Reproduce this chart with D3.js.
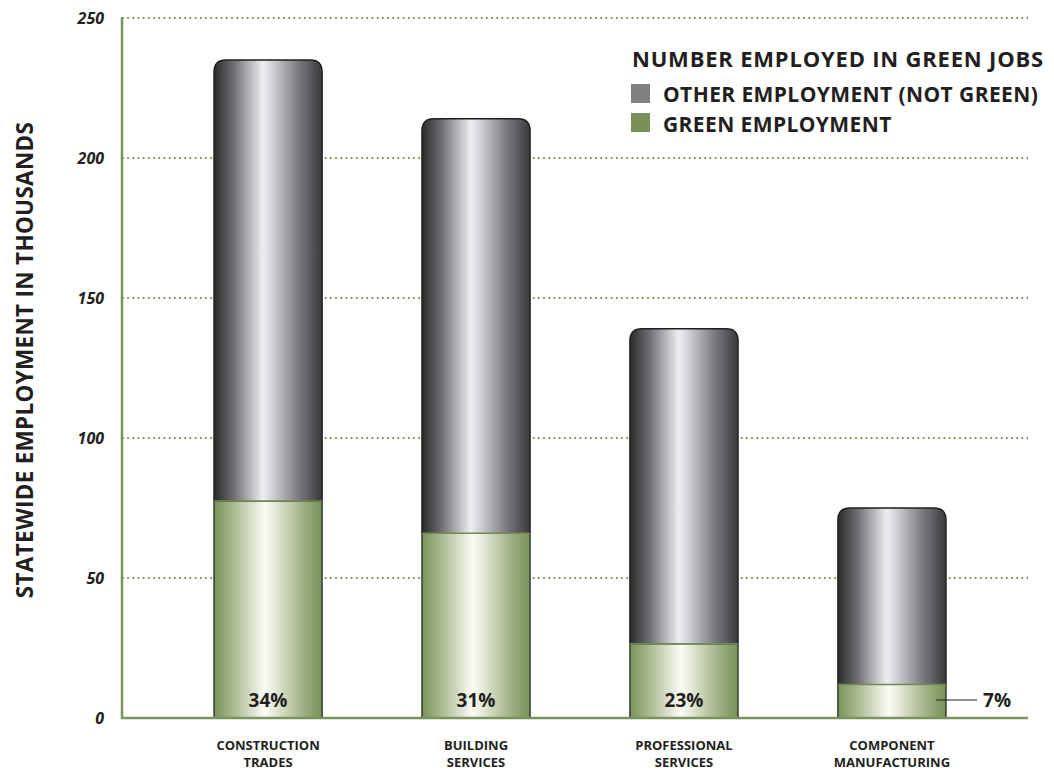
<!DOCTYPE html>
<html>
<head>
<meta charset="utf-8">
<script src="https://cdn.jsdelivr.net/npm/d3@7"></script>
<style>
  html,body{margin:0;padding:0;background:#fff;}
  svg{display:block;font-family:"Open Sans","Noto Sans",sans-serif;}
</style>
</head>
<body>
<svg width="1054" height="770"></svg>
<script>
// data (thousands)
const categories = [["CONSTRUCTION","TRADES"],["BUILDING","SERVICES"],["PROFESSIONAL","SERVICES"],["COMPONENT","MANUFACTURING"]];
const green = [77.5, 66, 26.5, 12];
const other = [157.5, 148, 112.5, 63];
const pctLabels = ["34%","31%","23%","7%"];
const yTicks = [0, 50, 100, 150, 200, 250];

const C = { grid:"#6e8c4c", axis:"#7a9459", ink:"#231f20", outline:"#1e1e1e" };

const svg = d3.select("svg");
const defs = svg.append("defs");

function grad(id, stops){
  const g = defs.append("linearGradient").attr("id",id).attr("x1","0%").attr("x2","100%").attr("y1","0").attr("y2","0");
  stops.forEach(s=>g.append("stop").attr("offset",s[0]).attr("stop-color",s[1]));
}
grad("gGray",[["0%","#2b2b2c"],["18%","#6c6d70"],["45%","#eceef0"],["52%","#d6d8db"],["80%","#747579"],["100%","#3a3a3c"]]);
grad("gGreen",[["0%","#78935a"],["18%","#a9b98f"],["47%","#fbfcf6"],["55%","#e8ecdc"],["82%","#a0b184"],["100%","#789258"]]);

const x0 = 122, x1 = 1028, yTop = 18, yBot = 718;
const keys = categories.map(d=>d.join(" "));
const x = d3.scaleBand().domain(keys).range([110, 1050]).paddingInner(0.48).paddingOuter(0.5);
const y = d3.scaleLinear().domain([0,250]).range([yBot, yTop]);

// grid
svg.append("g").selectAll("line").data(yTicks.filter(t=>t>0)).join("line")
  .attr("x1",x0).attr("x2",x1).attr("y1",d=>y(d)).attr("y2",d=>y(d))
  .attr("stroke",C.grid).attr("stroke-width",2).attr("stroke-dasharray","1.6 3.6").attr("stroke-linecap","butt");

// tick labels
svg.append("g").selectAll("text").data(yTicks).join("text")
  .attr("x",104).attr("y",d=>y(d)+6).attr("text-anchor","end")
  .attr("font-size",16).attr("font-weight",700).attr("font-style","italic").attr("fill",C.ink)
  .text(d=>d);

// y title
svg.append("text").attr("transform","translate(33,360) rotate(-90)").attr("text-anchor","middle")
  .attr("font-size",22.5).attr("font-weight",700).attr("fill",C.ink).attr("letter-spacing","0.3px")
  .text("STATEWIDE EMPLOYMENT IN THOUSANDS");

// stacked bars
const rows = keys.map((k,i)=>({key:k, green:green[i], other:other[i]}));
const series = d3.stack().keys(["green","other"])(rows);
const bw = x.bandwidth(), r = 12;

const bars = svg.append("g");
series[0].forEach((s,i)=>{
  bars.append("rect").attr("x",x(keys[i])).attr("width",bw)
    .attr("y",y(s[1])).attr("height",y(s[0])-y(s[1]))
    .attr("fill","url(#gGreen)").attr("stroke",C.outline).attr("stroke-width",1.2);
});
series[1].forEach((s,i)=>{
  const L = x(keys[i]), R = L+bw, T = y(s[1]), B = y(s[0]);
  const p = `M${L},${B} L${L},${T+r} Q${L},${T} ${L+r},${T} L${R-r},${T} Q${R},${T} ${R},${T+r} L${R},${B}`;
  bars.append("path").attr("d",p+" Z").attr("fill","url(#gGray)");
  bars.append("path").attr("d",p).attr("fill","none").attr("stroke",C.outline).attr("stroke-width",1.4);
  // green/gray seam
  bars.append("line").attr("x1",L).attr("x2",R).attr("y1",B).attr("y2",B).attr("stroke","#6f8a52").attr("stroke-width",1.5);
});

// axes lines
svg.append("line").attr("x1",x0).attr("x2",x0).attr("y1",yTop-1).attr("y2",yBot+1).attr("stroke",C.axis).attr("stroke-width",2.5);
svg.append("line").attr("x1",x0-1).attr("x2",x1).attr("y1",yBot).attr("y2",yBot).attr("stroke",C.axis).attr("stroke-width",2.5);

// percentage labels
pctLabels.forEach((t,i)=>{
  const cx = x(keys[i]) + bw/2;
  if(i < 3){
    svg.append("text").attr("x",cx).attr("y",y(0)-11).attr("text-anchor","middle")
      .attr("font-size",19).attr("font-weight",700).attr("fill",C.ink).text(t);
  } else {
    const R = x(keys[i]) + bw;
    svg.append("line").attr("x1",R-10).attr("x2",R+31).attr("y1",y(0)-18).attr("y2",y(0)-18)
      .attr("stroke",C.ink).attr("stroke-width",1.2);
    svg.append("text").attr("x",R+37).attr("y",y(0)-11).attr("text-anchor","start")
      .attr("font-size",19).attr("font-weight",700).attr("fill",C.ink).text(t);
  }
});

// category labels
categories.forEach((lines,i)=>{
  const cx = x(keys[i]) + bw/2;
  const t = svg.append("text").attr("text-anchor","middle").attr("font-size",13).attr("font-weight",700).attr("fill",C.ink);
  lines.forEach((l,j)=>t.append("tspan").attr("x",cx).attr("y",750+j*17).text(l));
});

// legend
const lg = svg.append("g");
lg.append("text").attr("x",632).attr("y",67).attr("font-size",22).attr("font-weight",700).attr("fill",C.ink)
  .attr("letter-spacing","0.8px").text("NUMBER EMPLOYED IN GREEN JOBS");
const legendItems = [["OTHER EMPLOYMENT (NOT GREEN)","#808080"],["GREEN EMPLOYMENT","#7a9058"]];
legendItems.forEach((d,i)=>{
  lg.append("rect").attr("x",631).attr("y",84+i*29).attr("width",19).attr("height",19).attr("fill",d[1]);
  lg.append("text").attr("x",663).attr("y",102+i*30).attr("font-size",21).attr("font-weight",700).attr("fill",C.ink)
    .attr("letter-spacing","0.4px").text(d[0]);
});
</script>
</body>
</html>
